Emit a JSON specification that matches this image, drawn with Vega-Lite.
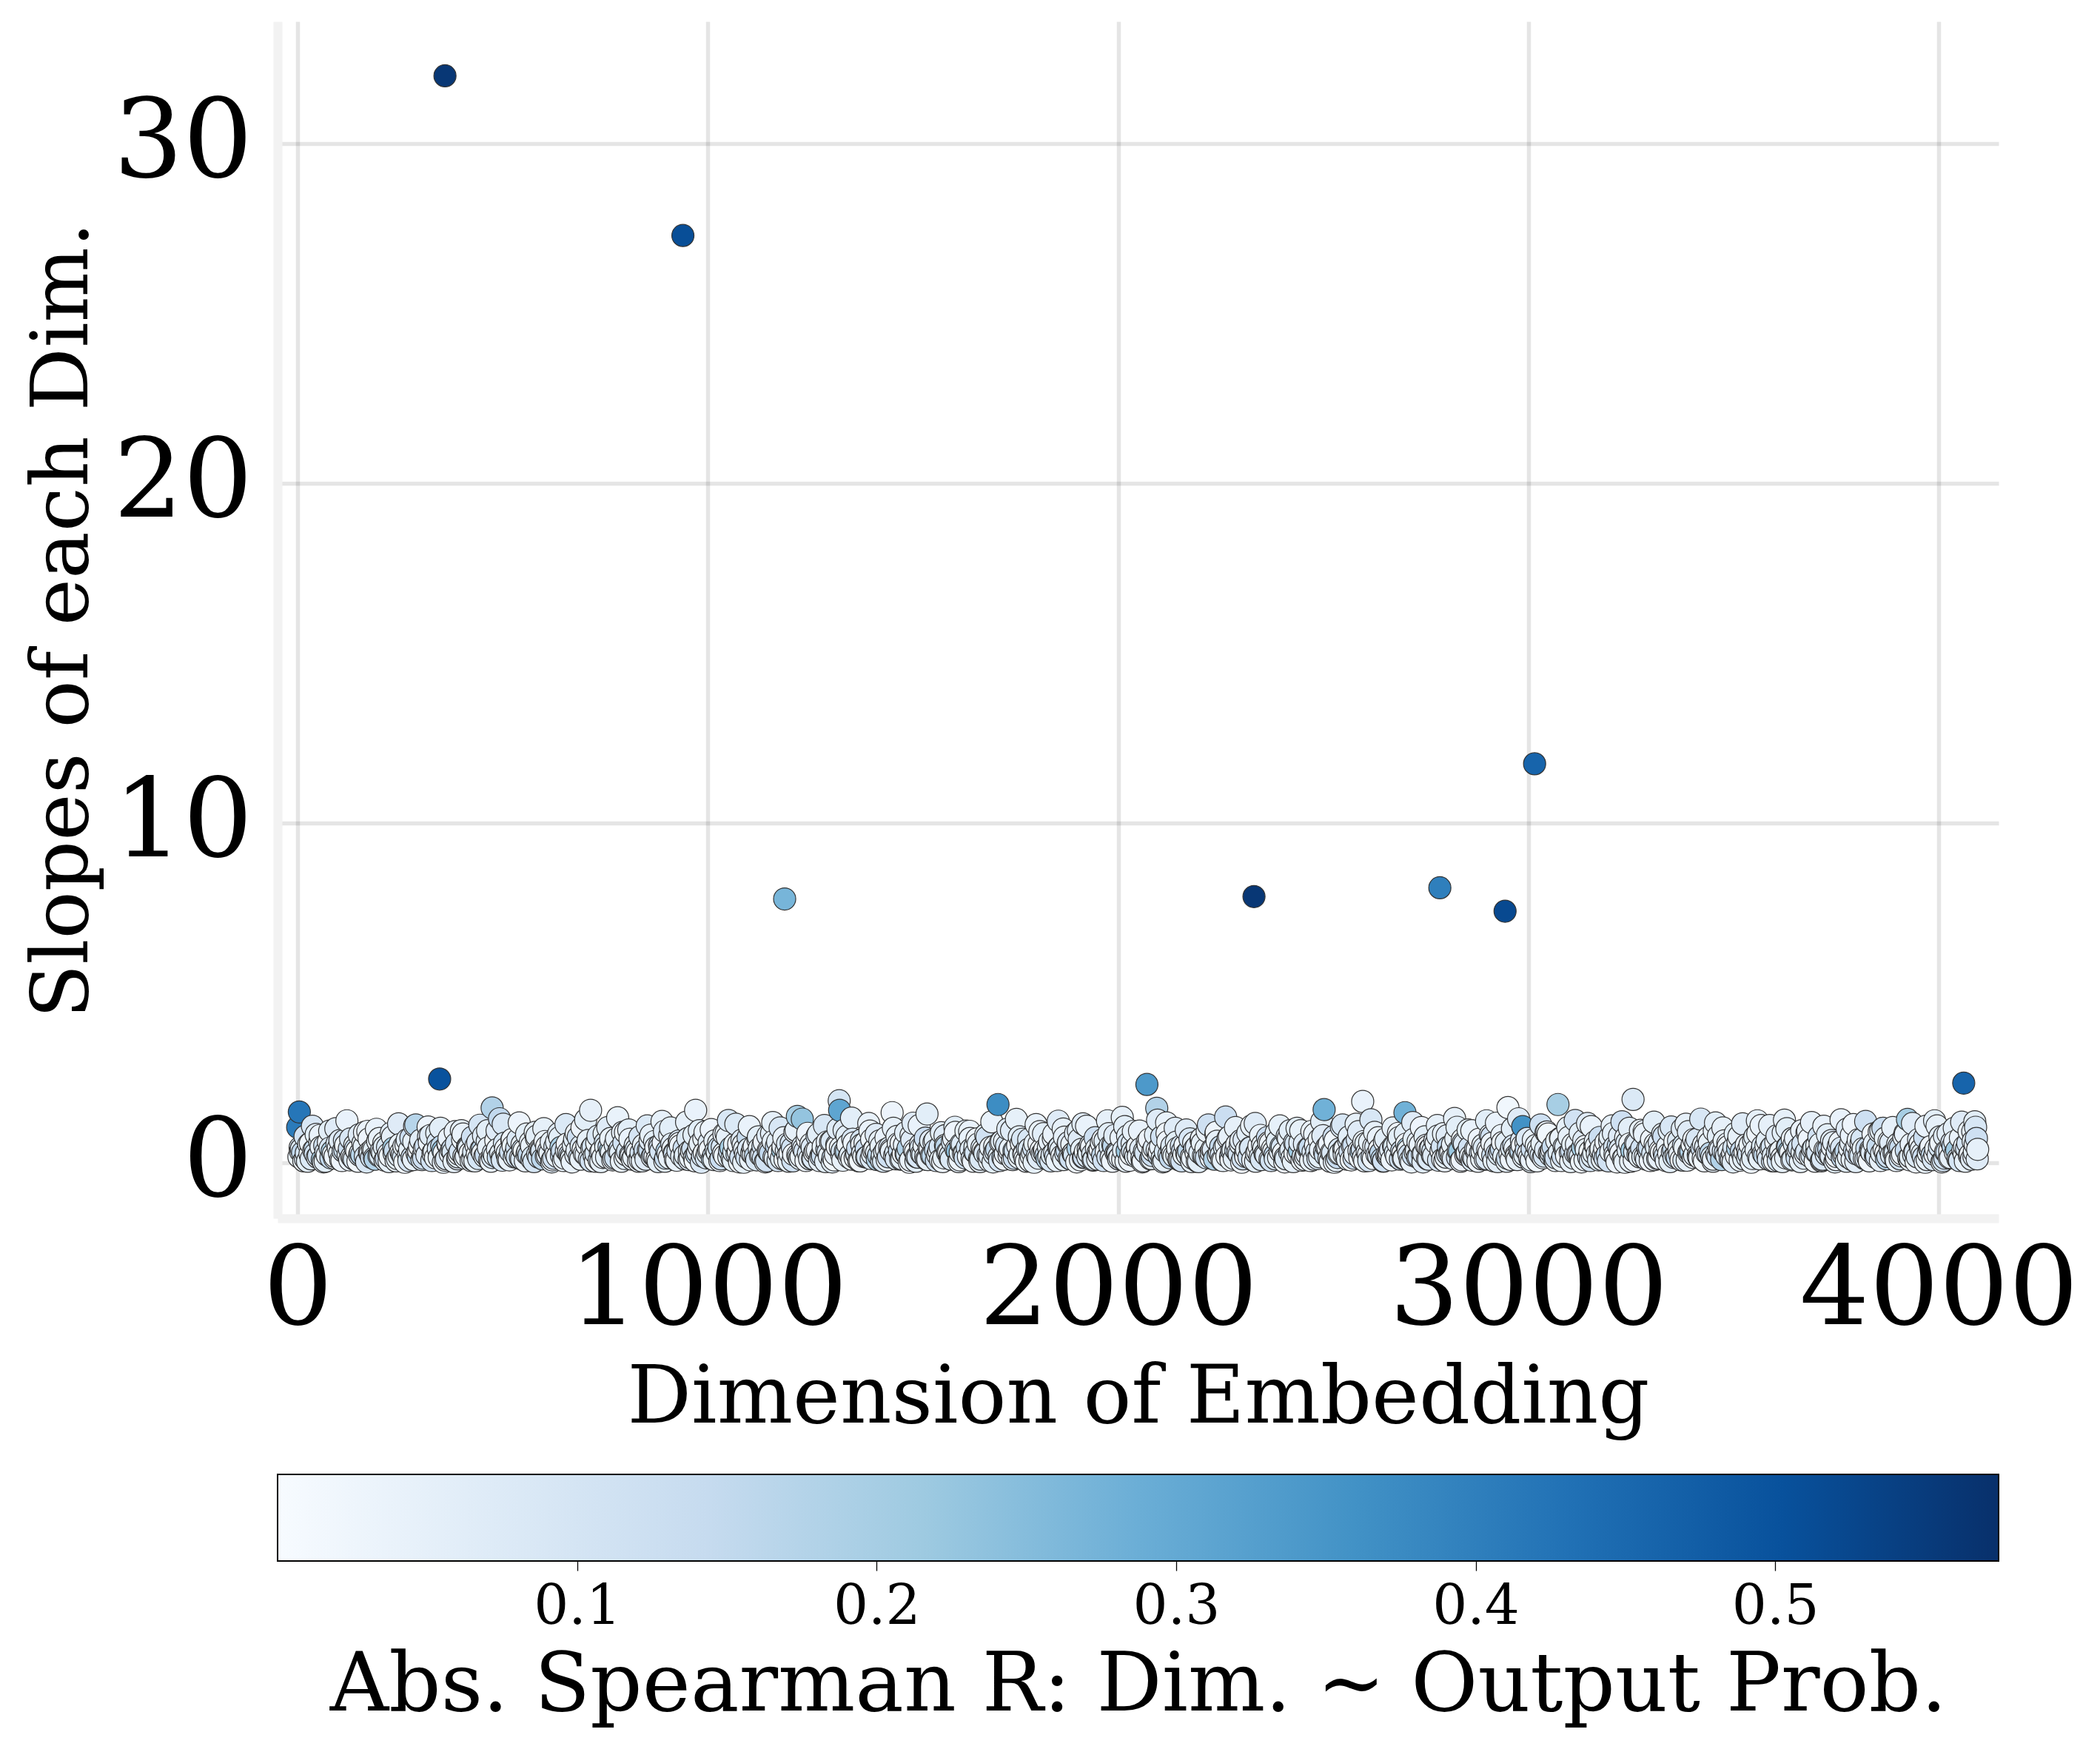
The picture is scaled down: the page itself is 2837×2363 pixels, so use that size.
{
  "$schema": "https://vega.github.io/schema/vega-lite/v6.json",
  "background": "white",
  "padding": {"left": 31, "top": 29, "right": 10, "bottom": 10},
  "spacing": 48,
  "config": {
    "font": "DejaVu Serif",
    "view": {"stroke": null},
    "axis": {"labelColor": "black", "titleColor": "black", "titleFontWeight": "normal", "labelFlush": false, "labelOverlap": false, "labelLimit": 0, "maxExtent": 400}
  },
  "vconcat": [
    {
      "width": 2325,
      "height": 1617,
      "data": {"values": [
        {"d":0,"s":1.05,"r":0.41},{"d":4,"s":1.5,"r":0.42},{"d":6,"s":0.45,"r":0.08},{"d":12,"s":0.31,"r":0.15},{"d":18,"s":0.78,"r":0.11},{"d":24,"s":0.05,"r":0.06},{"d":30,"s":0.26,"r":0.03},{"d":36,"s":1.08,"r":0.09},{"d":42,"s":0.39,"r":0.15},{"d":48,"s":0.17,"r":0.05},{"d":54,"s":0.62,"r":0.07},{"d":60,"s":0.09,"r":0.2},{"d":66,"s":0.51,"r":0.12},{"d":72,"s":0.23,"r":0.04},{"d":78,"s":0.94,"r":0.06},{"d":84,"s":0.34,"r":0.19},{"d":90,"s":0.14,"r":0.03},{"d":96,"s":0.57,"r":0.08},
        {"d":102,"s":0.28,"r":0.06},{"d":108,"s":0.07,"r":0.03},{"d":114,"s":0.66,"r":0.1},{"d":120,"s":1.24,"r":0.04},{"d":126,"s":0.42,"r":0.13},{"d":132,"s":0.19,"r":0.05},{"d":138,"s":0.11,"r":0.08},{"d":144,"s":0.35,"r":0.02},{"d":150,"s":0.83,"r":0.07},{"d":156,"s":0.24,"r":0.17},{"d":162,"s":0.48,"r":0.05},{"d":168,"s":0.03,"r":0.09},{"d":174,"s":0.71,"r":0.03},{"d":180,"s":0.16,"r":0.11},{"d":186,"s":0.38,"r":0.06},{"d":192,"s":0.99,"r":0.04},{"d":198,"s":0.21,"r":0.14},
        {"d":204,"s":0.36,"r":0.09},{"d":210,"s":0.59,"r":0.04},{"d":216,"s":0.13,"r":0.12},{"d":222,"s":0.27,"r":0.03},{"d":228,"s":0.88,"r":0.06},{"d":234,"s":0.44,"r":0.21},{"d":240,"s":0.06,"r":0.05},{"d":246,"s":1.15,"r":0.07},{"d":252,"s":0.32,"r":0.02},{"d":258,"s":0.18,"r":0.1},{"d":264,"s":0.53,"r":0.04},{"d":270,"s":0.25,"r":0.08},{"d":276,"s":0.74,"r":0.13},{"d":282,"s":0.1,"r":0.05},{"d":288,"s":1.12,"r":0.17},{"d":294,"s":0.2,"r":0.16},{"d":300,"s":0.67,"r":0.06},
        {"d":306,"s":0.22,"r":0.05},{"d":312,"s":0.49,"r":0.11},{"d":318,"s":1.06,"r":0.03},{"d":324,"s":0.81,"r":0.07},{"d":330,"s":0.3,"r":0.14},{"d":336,"s":0.15,"r":0.04},{"d":342,"s":0.61,"r":0.09},{"d":346,"s":2.47,"r":0.5},{"d":348,"s":1.02,"r":0.06},{"d":354,"s":0.37,"r":0.23},{"d":359,"s":32.0,"r":0.56},{"d":360,"s":0.08,"r":0.02},{"d":366,"s":0.55,"r":0.08},{"d":372,"s":0.27,"r":0.05},{"d":378,"s":0.43,"r":0.12},{"d":384,"s":0.92,"r":0.04},{"d":390,"s":0.12,"r":0.07},{"d":396,"s":0.33,"r":0.1},{"d":402,"s":0.69,"r":0.03},
        {"d":408,"s":0.14,"r":0.06},{"d":414,"s":0.47,"r":0.09},{"d":420,"s":0.29,"r":0.03},{"d":426,"s":0.76,"r":0.12},{"d":432,"s":0.06,"r":0.05},{"d":438,"s":0.25,"r":0.02},{"d":444,"s":1.11,"r":0.1},{"d":450,"s":0.41,"r":0.16},{"d":456,"s":0.19,"r":0.04},{"d":462,"s":0.64,"r":0.07},{"d":468,"s":0.08,"r":0.03},{"d":474,"s":1.62,"r":0.18},{"d":480,"s":0.22,"r":0.05},{"d":486,"s":0.95,"r":0.07},{"d":492,"s":1.3,"r":0.15},{"d":498,"s":0.13,"r":0.02},{"d":504,"s":0.58,"r":0.09},
        {"d":510,"s":0.26,"r":0.05},{"d":516,"s":0.09,"r":0.04},{"d":522,"s":0.68,"r":0.11},{"d":528,"s":0.18,"r":0.06},{"d":534,"s":0.44,"r":0.12},{"d":540,"s":1.18,"r":0.03},{"d":546,"s":0.12,"r":0.09},{"d":552,"s":0.36,"r":0.02},{"d":558,"s":0.85,"r":0.06},{"d":564,"s":0.23,"r":0.15},{"d":570,"s":0.5,"r":0.04},{"d":576,"s":0.04,"r":0.1},{"d":582,"s":0.73,"r":0.03},{"d":588,"s":0.17,"r":0.12},{"d":594,"s":0.39,"r":0.07},{"d":600,"s":1.01,"r":0.05},{"d":606,"s":0.2,"r":0.13},
        {"d":612,"s":0.35,"r":0.08},{"d":618,"s":0.61,"r":0.05},{"d":624,"s":0.14,"r":0.11},{"d":630,"s":0.28,"r":0.02},{"d":636,"s":0.86,"r":0.07},{"d":642,"s":0.46,"r":0.19},{"d":648,"s":0.07,"r":0.04},{"d":654,"s":1.13,"r":0.08},{"d":660,"s":0.31,"r":0.03},{"d":666,"s":0.19,"r":0.09},{"d":672,"s":0.52,"r":0.05},{"d":678,"s":0.24,"r":0.07},{"d":684,"s":0.76,"r":0.12},{"d":690,"s":0.11,"r":0.04},{"d":696,"s":0.4,"r":0.02},{"d":702,"s":1.27,"r":0.06},{"d":708,"s":0.66,"r":0.05},
        {"d":714,"s":1.55,"r":0.05},{"d":720,"s":0.48,"r":0.1},{"d":726,"s":0.05,"r":0.03},{"d":732,"s":0.79,"r":0.08},{"d":738,"s":0.31,"r":0.13},{"d":744,"s":0.16,"r":0.05},{"d":750,"s":0.6,"r":0.1},{"d":756,"s":1.04,"r":0.07},{"d":762,"s":0.36,"r":0.21},{"d":768,"s":0.09,"r":0.03},{"d":774,"s":0.54,"r":0.07},{"d":780,"s":1.33,"r":0.04},{"d":786,"s":0.42,"r":0.11},{"d":792,"s":0.9,"r":0.05},{"d":798,"s":0.13,"r":0.06},{"d":804,"s":0.34,"r":0.09},{"d":810,"s":0.7,"r":0.04},
        {"d":816,"s":0.11,"r":0.05},{"d":822,"s":0.44,"r":0.07},{"d":828,"s":0.32,"r":0.03},{"d":834,"s":0.77,"r":0.1},{"d":840,"s":0.06,"r":0.05},{"d":846,"s":0.27,"r":0.04},{"d":852,"s":1.09,"r":0.08},{"d":858,"s":0.38,"r":0.14},{"d":864,"s":0.18,"r":0.06},{"d":870,"s":0.63,"r":0.06},{"d":876,"s":0.1,"r":0.03},{"d":882,"s":0.52,"r":0.11},{"d":888,"s":1.22,"r":0.05},{"d":894,"s":0.93,"r":0.07},{"d":900,"s":0.35,"r":0.18},{"d":906,"s":0.15,"r":0.04},{"d":912,"s":0.56,"r":0.07},
        {"d":918,"s":0.29,"r":0.05},{"d":924,"s":0.08,"r":0.04},{"d":930,"s":0.65,"r":0.09},{"d":936,"s":0.2,"r":0.06},{"d":939,"s":27.3,"r":0.51},{"d":942,"s":0.43,"r":0.12},{"d":948,"s":1.2,"r":0.05},{"d":954,"s":0.1,"r":0.07},{"d":960,"s":0.34,"r":0.03},{"d":966,"s":0.82,"r":0.06},{"d":970,"s":1.55,"r":0.04},{"d":972,"s":0.25,"r":0.16},{"d":978,"s":0.47,"r":0.04},{"d":984,"s":0.02,"r":0.08},{"d":990,"s":0.72,"r":0.04},{"d":996,"s":0.15,"r":0.1},{"d":1002,"s":0.37,"r":0.05},{"d":1008,"s":0.98,"r":0.03},{"d":1014,"s":0.22,"r":0.13},
        {"d":1020,"s":0.37,"r":0.08},{"d":1026,"s":0.58,"r":0.05},{"d":1032,"s":0.12,"r":0.13},{"d":1038,"s":0.28,"r":0.04},{"d":1044,"s":0.87,"r":0.05},{"d":1050,"s":1.25,"r":0.09},{"d":1056,"s":0.45,"r":0.2},{"d":1062,"s":0.07,"r":0.06},{"d":1068,"s":1.14,"r":0.08},{"d":1074,"s":0.33,"r":0.03},{"d":1080,"s":0.17,"r":0.11},{"d":1086,"s":0.54,"r":0.05},{"d":1092,"s":0.26,"r":0.07},{"d":1098,"s":0.75,"r":0.14},{"d":1104,"s":0.09,"r":0.04},{"d":1110,"s":0.42,"r":0.03},{"d":1116,"s":0.21,"r":0.15},
        {"d":1122,"s":0.68,"r":0.05},{"d":1128,"s":0.23,"r":0.06},{"d":1134,"s":0.5,"r":0.12},{"d":1140,"s":0.03,"r":0.04},{"d":1146,"s":0.8,"r":0.07},{"d":1152,"s":0.29,"r":0.15},{"d":1158,"s":1.19,"r":0.05},{"d":1164,"s":0.14,"r":0.08},{"d":1170,"s":0.62,"r":0.06},{"d":1176,"s":1.03,"r":0.09},{"d":1182,"s":0.38,"r":0.22},{"d":1187,"s":7.77,"r":0.27},{"d":1188,"s":0.1,"r":0.03},{"d":1194,"s":0.56,"r":0.08},{"d":1200,"s":0.28,"r":0.04},{"d":1206,"s":0.44,"r":0.11},{"d":1212,"s":0.91,"r":0.05},{"d":1218,"s":1.37,"r":0.2},
        {"d":1224,"s":0.13,"r":0.06},{"d":1230,"s":1.29,"r":0.23},{"d":1236,"s":0.34,"r":0.1},{"d":1242,"s":0.7,"r":0.04},{"d":1248,"s":0.12,"r":0.05},{"d":1254,"s":0.46,"r":0.08},{"d":1260,"s":0.3,"r":0.03},{"d":1266,"s":0.79,"r":0.12},{"d":1272,"s":0.07,"r":0.05},{"d":1278,"s":0.26,"r":0.03},{"d":1284,"s":1.1,"r":0.09},{"d":1290,"s":0.4,"r":0.14},{"d":1296,"s":0.2,"r":0.05},{"d":1302,"s":0.64,"r":0.08},{"d":1308,"s":0.09,"r":0.02},{"d":1314,"s":0.53,"r":0.12},{"d":1320,"s":1.83,"r":0.1},{"d":1321,"s":1.55,"r":0.31},
        {"d":1326,"s":0.24,"r":0.04},{"d":1332,"s":0.96,"r":0.07},{"d":1338,"s":0.33,"r":0.17},{"d":1344,"s":0.16,"r":0.05},{"d":1350,"s":1.32,"r":0.06},{"d":1356,"s":0.59,"r":0.03},{"d":1362,"s":0.27,"r":0.06},{"d":1368,"s":0.06,"r":0.04},{"d":1374,"s":0.67,"r":0.1},{"d":1380,"s":0.19,"r":0.05},{"d":1386,"s":0.41,"r":0.13},{"d":1392,"s":1.16,"r":0.04},{"d":1398,"s":0.13,"r":0.08},{"d":1404,"s":0.37,"r":0.02},{"d":1410,"s":0.84,"r":0.07},{"d":1416,"s":0.22,"r":0.16},{"d":1422,"s":0.49,"r":0.05},
        {"d":1428,"s":0.05,"r":0.09},{"d":1434,"s":0.74,"r":0.04},{"d":1440,"s":0.18,"r":0.12},{"d":1446,"s":0.39,"r":0.07},{"d":1449,"s":1.48,"r":0.03},{"d":1452,"s":1.02,"r":0.05},{"d":1458,"s":0.3,"r":0.09},{"d":1464,"s":0.57,"r":0.05},{"d":1470,"s":0.11,"r":0.11},{"d":1476,"s":0.27,"r":0.03},{"d":1482,"s":0.89,"r":0.06},{"d":1488,"s":0.43,"r":0.18},{"d":1494,"s":0.08,"r":0.04},{"d":1500,"s":1.17,"r":0.07},{"d":1506,"s":0.32,"r":0.02},{"d":1512,"s":0.17,"r":0.09},{"d":1518,"s":0.54,"r":0.04},{"d":1524,"s":0.25,"r":0.08},
        {"d":1530,"s":0.73,"r":0.13},{"d":1534,"s":1.44,"r":0.06},{"d":1536,"s":0.1,"r":0.05},{"d":1542,"s":0.41,"r":0.03},{"d":1548,"s":0.21,"r":0.16},{"d":1554,"s":0.66,"r":0.06},{"d":1560,"s":0.24,"r":0.05},{"d":1566,"s":0.48,"r":0.1},{"d":1572,"s":0.04,"r":0.03},{"d":1578,"s":0.8,"r":0.07},{"d":1584,"s":0.31,"r":0.14},{"d":1590,"s":0.15,"r":0.04},{"d":1596,"s":0.62,"r":0.09},{"d":1602,"s":1.05,"r":0.06},{"d":1608,"s":0.35,"r":0.24},{"d":1614,"s":0.09,"r":0.03},{"d":1620,"s":0.55,"r":0.07},{"d":1626,"s":0.29,"r":0.05},
        {"d":1632,"s":0.45,"r":0.12},{"d":1638,"s":0.93,"r":0.04},{"d":1644,"s":0.13,"r":0.07},{"d":1650,"s":0.33,"r":0.09},{"d":1656,"s":0.71,"r":0.03},{"d":1662,"s":0.12,"r":0.05},{"d":1668,"s":0.45,"r":0.08},{"d":1674,"s":0.31,"r":0.03},{"d":1680,"s":0.76,"r":0.11},{"d":1686,"s":0.07,"r":0.05},{"d":1692,"s":1.21,"r":0.04},{"d":1698,"s":0.26,"r":0.09},{"d":1704,"s":0.4,"r":0.15},{"d":1707,"s":1.72,"r":0.37},{"d":1710,"s":0.19,"r":0.06},{"d":1716,"s":0.63,"r":0.06},{"d":1722,"s":0.11,"r":0.03},{"d":1728,"s":0.51,"r":0.1},
        {"d":1734,"s":0.23,"r":0.04},{"d":1740,"s":0.95,"r":0.07},{"d":1746,"s":0.36,"r":0.17},{"d":1752,"s":1.28,"r":0.05},{"d":1758,"s":0.16,"r":0.05},{"d":1764,"s":0.58,"r":0.03},{"d":1770,"s":0.27,"r":0.06},{"d":1776,"s":0.05,"r":0.04},{"d":1782,"s":0.69,"r":0.09},{"d":1788,"s":0.2,"r":0.05},{"d":1794,"s":0.43,"r":0.12},{"d":1800,"s":1.13,"r":0.04},{"d":1806,"s":0.14,"r":0.07},{"d":1812,"s":0.38,"r":0.02},{"d":1818,"s":0.86,"r":0.06},{"d":1824,"s":0.23,"r":0.14},{"d":1830,"s":0.47,"r":0.05},
        {"d":1836,"s":0.06,"r":0.09},{"d":1842,"s":0.72,"r":0.04},{"d":1848,"s":0.19,"r":0.11},{"d":1854,"s":1.23,"r":0.07},{"d":1860,"s":0.37,"r":0.06},{"d":1866,"s":1.0,"r":0.05},{"d":1872,"s":0.29,"r":0.1},{"d":1878,"s":0.56,"r":0.05},{"d":1884,"s":0.12,"r":0.12},{"d":1890,"s":0.28,"r":0.03},{"d":1896,"s":0.87,"r":0.06},{"d":1902,"s":0.44,"r":0.19},{"d":1908,"s":0.09,"r":0.04},{"d":1914,"s":1.15,"r":0.07},{"d":1920,"s":0.33,"r":0.02},{"d":1926,"s":0.18,"r":0.08},{"d":1932,"s":0.52,"r":0.04},
        {"d":1938,"s":0.26,"r":0.08},{"d":1944,"s":0.74,"r":0.12},{"d":1950,"s":0.11,"r":0.05},{"d":1956,"s":0.4,"r":0.03},{"d":1962,"s":0.22,"r":0.15},{"d":1968,"s":0.65,"r":0.06},{"d":1974,"s":1.24,"r":0.05},{"d":1980,"s":0.49,"r":0.1},{"d":1986,"s":0.05,"r":0.03},{"d":1992,"s":0.81,"r":0.07},{"d":1998,"s":0.3,"r":0.13},{"d":2004,"s":0.16,"r":0.04},{"d":2010,"s":1.34,"r":0.05},{"d":2016,"s":1.07,"r":0.06},{"d":2022,"s":0.36,"r":0.22},{"d":2028,"s":0.08,"r":0.03},{"d":2034,"s":0.57,"r":0.07},
        {"d":2040,"s":0.28,"r":0.05},{"d":2046,"s":0.46,"r":0.11},{"d":2052,"s":0.94,"r":0.04},{"d":2058,"s":0.14,"r":0.07},{"d":2064,"s":0.34,"r":0.09},{"d":2070,"s":2.31,"r":0.34},{"d":2076,"s":0.7,"r":0.03},{"d":2082,"s":0.13,"r":0.05},{"d":2088,"s":0.44,"r":0.08},{"d":2094,"s":1.61,"r":0.18},{"d":2096,"s":1.26,"r":0.07},{"d":2100,"s":0.32,"r":0.03},{"d":2106,"s":0.77,"r":0.11},{"d":2112,"s":0.06,"r":0.05},{"d":2118,"s":1.18,"r":0.04},{"d":2124,"s":0.25,"r":0.09},{"d":2130,"s":0.41,"r":0.15},{"d":2136,"s":0.2,"r":0.06},
        {"d":2142,"s":0.61,"r":0.06},{"d":2148,"s":0.1,"r":0.03},{"d":2154,"s":0.5,"r":0.1},{"d":2160,"s":0.24,"r":0.04},{"d":2166,"s":0.97,"r":0.07},{"d":2172,"s":0.35,"r":0.16},{"d":2178,"s":0.17,"r":0.05},{"d":2184,"s":0.59,"r":0.05},{"d":2190,"s":0.28,"r":0.03},{"d":2196,"s":0.04,"r":0.06},{"d":2202,"s":0.68,"r":0.04},{"d":2208,"s":0.21,"r":0.09},{"d":2214,"s":0.42,"r":0.05},{"d":2220,"s":1.12,"r":0.12},{"d":2226,"s":0.15,"r":0.04},{"d":2232,"s":0.39,"r":0.07},{"d":2238,"s":0.85,"r":0.02},
        {"d":2244,"s":0.22,"r":0.06},{"d":2250,"s":0.48,"r":0.14},{"d":2256,"s":0.07,"r":0.05},{"d":2262,"s":1.35,"r":0.13},{"d":2268,"s":0.73,"r":0.04},{"d":2274,"s":0.19,"r":0.12},{"d":2280,"s":0.38,"r":0.07},{"d":2286,"s":1.04,"r":0.05},{"d":2292,"s":0.31,"r":0.09},{"d":2298,"s":0.55,"r":0.05},{"d":2304,"s":0.12,"r":0.11},{"d":2310,"s":0.26,"r":0.03},{"d":2316,"s":0.88,"r":0.06},{"d":2322,"s":0.45,"r":0.2},{"d":2328,"s":0.09,"r":0.04},{"d":2331,"s":7.84,"r":0.56},{"d":2334,"s":1.16,"r":0.07},{"d":2340,"s":0.34,"r":0.02},
        {"d":2346,"s":0.18,"r":0.08},{"d":2352,"s":0.53,"r":0.04},{"d":2358,"s":0.27,"r":0.06},{"d":2364,"s":0.75,"r":0.13},{"d":2370,"s":0.1,"r":0.05},{"d":2376,"s":0.42,"r":0.03},{"d":2382,"s":0.23,"r":0.15},{"d":2388,"s":0.64,"r":0.06},{"d":2394,"s":1.09,"r":0.05},{"d":2400,"s":0.47,"r":0.1},{"d":2406,"s":0.03,"r":0.03},{"d":2412,"s":0.79,"r":0.07},{"d":2418,"s":0.32,"r":0.12},{"d":2424,"s":0.15,"r":0.04},{"d":2430,"s":0.6,"r":0.09},{"d":2436,"s":1.02,"r":0.06},{"d":2442,"s":0.37,"r":0.21},
        {"d":2448,"s":0.08,"r":0.03},{"d":2454,"s":0.56,"r":0.07},{"d":2460,"s":0.26,"r":0.05},{"d":2466,"s":0.43,"r":0.11},{"d":2472,"s":0.93,"r":0.04},{"d":2478,"s":0.11,"r":0.07},{"d":2484,"s":0.33,"r":0.1},{"d":2490,"s":0.69,"r":0.03},{"d":2496,"s":1.22,"r":0.06},{"d":2502,"s":1.57,"r":0.28},{"d":2508,"s":0.46,"r":0.08},{"d":2514,"s":0.14,"r":0.05},{"d":2520,"s":0.31,"r":0.03},{"d":2526,"s":0.78,"r":0.12},{"d":2532,"s":0.07,"r":0.05},{"d":2538,"s":0.27,"r":0.03},{"d":2544,"s":1.06,"r":0.09},
        {"d":2550,"s":0.4,"r":0.14},{"d":2556,"s":0.21,"r":0.05},{"d":2562,"s":0.65,"r":0.08},{"d":2568,"s":0.09,"r":0.02},{"d":2574,"s":0.52,"r":0.12},{"d":2580,"s":1.14,"r":0.05},{"d":2586,"s":0.92,"r":0.07},{"d":2592,"s":0.34,"r":0.18},{"d":2596,"s":1.81,"r":0.04},{"d":2598,"s":0.16,"r":0.04},{"d":2604,"s":0.58,"r":0.06},{"d":2610,"s":0.24,"r":0.05},{"d":2616,"s":1.27,"r":0.09},{"d":2622,"s":0.13,"r":0.03},{"d":2628,"s":0.47,"r":0.07},{"d":2634,"s":0.74,"r":0.04},{"d":2640,"s":0.29,"r":0.16},{"d":2646,"s":0.05,"r":0.05},
        {"d":2652,"s":0.71,"r":0.06},{"d":2658,"s":0.19,"r":0.12},{"d":2664,"s":0.39,"r":0.07},{"d":2670,"s":1.03,"r":0.05},{"d":2676,"s":0.3,"r":0.09},{"d":2682,"s":0.57,"r":0.05},{"d":2688,"s":0.11,"r":0.11},{"d":2694,"s":0.28,"r":0.03},{"d":2699,"s":1.48,"r":0.28},{"d":2700,"s":0.86,"r":0.06},{"d":2706,"s":0.44,"r":0.19},{"d":2712,"s":0.08,"r":0.04},{"d":2718,"s":1.19,"r":0.07},{"d":2724,"s":0.32,"r":0.02},{"d":2730,"s":0.17,"r":0.08},{"d":2736,"s":0.53,"r":0.04},{"d":2742,"s":0.25,"r":0.1},{"d":2748,"s":0.77,"r":0.06},
        {"d":2754,"s":0.12,"r":0.05},{"d":2760,"s":0.41,"r":0.03},{"d":2766,"s":0.23,"r":0.15},{"d":2772,"s":0.66,"r":0.06},{"d":2778,"s":1.1,"r":0.05},{"d":2784,"s":8.1,"r":0.4},{"d":2790,"s":0.48,"r":0.1},{"d":2796,"s":0.06,"r":0.03},{"d":2802,"s":0.8,"r":0.07},{"d":2808,"s":0.29,"r":0.13},{"d":2814,"s":0.16,"r":0.04},{"d":2820,"s":1.31,"r":0.05},{"d":2826,"s":1.05,"r":0.06},{"d":2832,"s":0.35,"r":0.22},{"d":2838,"s":0.09,"r":0.03},{"d":2844,"s":0.56,"r":0.07},{"d":2850,"s":0.27,"r":0.05},
        {"d":2856,"s":0.45,"r":0.11},{"d":2862,"s":0.95,"r":0.04},{"d":2868,"s":0.14,"r":0.07},{"d":2874,"s":0.33,"r":0.09},{"d":2880,"s":0.7,"r":0.03},{"d":2886,"s":0.12,"r":0.05},{"d":2892,"s":0.44,"r":0.08},{"d":2898,"s":1.24,"r":0.06},{"d":2904,"s":0.31,"r":0.03},{"d":2910,"s":0.77,"r":0.11},{"d":2916,"s":0.06,"r":0.05},{"d":2922,"s":1.17,"r":0.04},{"d":2928,"s":0.25,"r":0.09},{"d":2934,"s":0.41,"r":0.15},{"d":2940,"s":0.2,"r":0.06},{"d":2943,"s":7.41,"r":0.52},{"d":2946,"s":0.6,"r":0.06},{"d":2950,"s":1.63,"r":0.02},
        {"d":2958,"s":0.1,"r":0.03},{"d":2964,"s":0.51,"r":0.1},{"d":2970,"s":0.24,"r":0.04},{"d":2976,"s":1.3,"r":0.07},{"d":2982,"s":0.35,"r":0.16},{"d":2986,"s":1.07,"r":0.36},{"d":2988,"s":0.17,"r":0.05},{"d":2994,"s":0.59,"r":0.05},{"d":3000,"s":0.28,"r":0.03},{"d":3006,"s":0.04,"r":0.06},{"d":3012,"s":0.68,"r":0.04},{"d":3015,"s":11.75,"r":0.46},{"d":3018,"s":0.21,"r":0.09},{"d":3024,"s":0.42,"r":0.05},{"d":3030,"s":1.12,"r":0.12},{"d":3036,"s":0.15,"r":0.04},{"d":3042,"s":0.39,"r":0.07},{"d":3048,"s":0.85,"r":0.02},{"d":3054,"s":0.22,"r":0.06},
        {"d":3060,"s":0.48,"r":0.14},{"d":3066,"s":0.07,"r":0.05},{"d":3072,"s":1.72,"r":0.2},{"d":3078,"s":0.73,"r":0.04},{"d":3084,"s":0.19,"r":0.12},{"d":3090,"s":0.38,"r":0.07},{"d":3096,"s":1.04,"r":0.05},{"d":3102,"s":0.31,"r":0.09},{"d":3108,"s":0.55,"r":0.05},{"d":3114,"s":1.25,"r":0.11},{"d":3120,"s":0.26,"r":0.03},{"d":3126,"s":0.88,"r":0.06},{"d":3132,"s":0.45,"r":0.2},{"d":3138,"s":0.09,"r":0.04},{"d":3144,"s":1.16,"r":0.07},{"d":3150,"s":0.34,"r":0.02},{"d":3156,"s":0.18,"r":0.08},
        {"d":3162,"s":0.53,"r":0.04},{"d":3168,"s":0.27,"r":0.06},{"d":3174,"s":0.75,"r":0.13},{"d":3180,"s":0.1,"r":0.05},{"d":3186,"s":0.42,"r":0.03},{"d":3192,"s":0.23,"r":0.15},{"d":3198,"s":0.64,"r":0.06},{"d":3204,"s":1.09,"r":0.05},{"d":3210,"s":0.47,"r":0.1},{"d":3216,"s":0.03,"r":0.03},{"d":3222,"s":0.79,"r":0.07},{"d":3228,"s":1.21,"r":0.12},{"d":3234,"s":0.15,"r":0.04},{"d":3240,"s":0.6,"r":0.09},{"d":3246,"s":1.02,"r":0.06},{"d":3252,"s":0.37,"r":0.21},{"d":3255,"s":1.87,"r":0.08},{"d":3258,"s":0.08,"r":0.03},
        {"d":3264,"s":0.56,"r":0.07},{"d":3270,"s":0.26,"r":0.05},{"d":3276,"s":0.43,"r":0.11},{"d":3282,"s":0.93,"r":0.04},{"d":3288,"s":0.11,"r":0.07},{"d":3294,"s":0.33,"r":0.1},{"d":3300,"s":0.69,"r":0.03},{"d":3306,"s":1.2,"r":0.06},{"d":3312,"s":0.46,"r":0.08},{"d":3318,"s":0.14,"r":0.05},{"d":3324,"s":0.31,"r":0.03},{"d":3330,"s":0.78,"r":0.12},{"d":3336,"s":0.07,"r":0.05},{"d":3342,"s":0.27,"r":0.03},{"d":3348,"s":1.06,"r":0.09},{"d":3354,"s":0.4,"r":0.14},{"d":3360,"s":0.21,"r":0.05},
        {"d":3366,"s":0.65,"r":0.08},{"d":3372,"s":0.09,"r":0.02},{"d":3378,"s":0.52,"r":0.12},{"d":3384,"s":1.14,"r":0.05},{"d":3390,"s":0.92,"r":0.07},{"d":3396,"s":0.34,"r":0.18},{"d":3402,"s":0.16,"r":0.04},{"d":3408,"s":0.58,"r":0.06},{"d":3414,"s":0.24,"r":0.05},{"d":3420,"s":1.29,"r":0.09},{"d":3426,"s":0.13,"r":0.03},{"d":3432,"s":0.47,"r":0.07},{"d":3438,"s":0.74,"r":0.04},{"d":3444,"s":0.29,"r":0.16},{"d":3450,"s":0.05,"r":0.05},{"d":3456,"s":1.18,"r":0.06},{"d":3462,"s":0.19,"r":0.12},
        {"d":3468,"s":0.39,"r":0.07},{"d":3474,"s":1.03,"r":0.05},{"d":3480,"s":0.3,"r":0.09},{"d":3486,"s":0.57,"r":0.05},{"d":3492,"s":0.11,"r":0.11},{"d":3498,"s":0.28,"r":0.03},{"d":3504,"s":0.86,"r":0.06},{"d":3510,"s":0.44,"r":0.19},{"d":3516,"s":0.08,"r":0.04},{"d":3522,"s":1.15,"r":0.07},{"d":3528,"s":0.32,"r":0.02},{"d":3534,"s":0.17,"r":0.08},{"d":3540,"s":0.53,"r":0.04},{"d":3546,"s":0.25,"r":0.1},{"d":3552,"s":0.77,"r":0.06},{"d":3558,"s":1.24,"r":0.05},{"d":3564,"s":0.12,"r":0.05},
        {"d":3570,"s":0.41,"r":0.03},{"d":3576,"s":0.23,"r":0.15},{"d":3582,"s":0.66,"r":0.06},{"d":3588,"s":1.1,"r":0.05},{"d":3594,"s":0.48,"r":0.1},{"d":3600,"s":0.06,"r":0.03},{"d":3606,"s":0.8,"r":0.07},{"d":3612,"s":0.29,"r":0.13},{"d":3618,"s":0.16,"r":0.04},{"d":3624,"s":1.26,"r":0.05},{"d":3630,"s":1.01,"r":0.06},{"d":3636,"s":0.35,"r":0.22},{"d":3642,"s":0.09,"r":0.03},{"d":3648,"s":0.56,"r":0.07},{"d":3654,"s":0.27,"r":0.05},{"d":3660,"s":0.45,"r":0.11},{"d":3666,"s":0.95,"r":0.04},
        {"d":3672,"s":0.14,"r":0.07},{"d":3678,"s":0.33,"r":0.09},{"d":3684,"s":0.7,"r":0.03},{"d":3690,"s":1.19,"r":0.05},{"d":3696,"s":0.44,"r":0.08},{"d":3702,"s":0.31,"r":0.03},{"d":3708,"s":0.77,"r":0.11},{"d":3714,"s":0.06,"r":0.05},{"d":3720,"s":1.08,"r":0.04},{"d":3726,"s":0.25,"r":0.09},{"d":3732,"s":0.41,"r":0.15},{"d":3738,"s":0.2,"r":0.06},{"d":3744,"s":0.6,"r":0.06},{"d":3750,"s":0.1,"r":0.03},{"d":3756,"s":0.51,"r":0.1},{"d":3762,"s":1.27,"r":0.04},{"d":3768,"s":0.24,"r":0.04},
        {"d":3774,"s":0.35,"r":0.16},{"d":3780,"s":0.17,"r":0.05},{"d":3786,"s":0.59,"r":0.05},{"d":3792,"s":1.13,"r":0.03},{"d":3798,"s":0.04,"r":0.06},{"d":3804,"s":0.68,"r":0.04},{"d":3810,"s":0.21,"r":0.09},{"d":3816,"s":0.42,"r":0.05},{"d":3822,"s":1.22,"r":0.12},{"d":3828,"s":0.15,"r":0.04},{"d":3834,"s":0.39,"r":0.07},{"d":3840,"s":0.85,"r":0.02},{"d":3846,"s":0.22,"r":0.06},{"d":3852,"s":0.48,"r":0.14},{"d":3858,"s":0.07,"r":0.05},{"d":3864,"s":1.02,"r":0.13},{"d":3870,"s":0.73,"r":0.04},
        {"d":3876,"s":0.19,"r":0.12},{"d":3882,"s":0.38,"r":0.07},{"d":3888,"s":1.04,"r":0.05},{"d":3894,"s":0.31,"r":0.09},{"d":3900,"s":0.55,"r":0.05},{"d":3906,"s":0.12,"r":0.11},{"d":3912,"s":0.26,"r":0.03},{"d":3918,"s":0.88,"r":0.06},{"d":3924,"s":1.28,"r":0.2},{"d":3930,"s":0.09,"r":0.04},{"d":3936,"s":1.16,"r":0.07},{"d":3942,"s":0.34,"r":0.02},{"d":3948,"s":0.18,"r":0.08},{"d":3954,"s":0.53,"r":0.04},{"d":3960,"s":0.27,"r":0.06},{"d":3966,"s":0.75,"r":0.13},{"d":3972,"s":0.1,"r":0.05},
        {"d":3978,"s":0.42,"r":0.03},{"d":3984,"s":0.23,"r":0.15},{"d":3990,"s":1.24,"r":0.06},{"d":3996,"s":1.09,"r":0.05},{"d":4002,"s":0.47,"r":0.1},{"d":4008,"s":0.03,"r":0.03},{"d":4014,"s":0.79,"r":0.07},{"d":4020,"s":0.32,"r":0.12},{"d":4026,"s":0.15,"r":0.04},{"d":4032,"s":0.6,"r":0.09},{"d":4038,"s":1.02,"r":0.06},{"d":4044,"s":0.37,"r":0.21},{"d":4050,"s":0.08,"r":0.03},{"d":4056,"s":1.2,"r":0.07},{"d":4061,"s":2.35,"r":0.46},{"d":4062,"s":0.26,"r":0.05},{"d":4068,"s":0.43,"r":0.11},{"d":4074,"s":0.93,"r":0.04},
        {"d":4080,"s":0.11,"r":0.07},{"d":4084,"s":0.64,"r":0.05},{"d":4088,"s":1.21,"r":0.06},{"d":4090,"s":1.05,"r":0.09},{"d":4092,"s":0.72,"r":0.12},{"d":4095,"s":0.4,"r":0.05},
        {"d":3,"s":0.18,"r":0.04},{"d":9,"s":0.41,"r":0.07},{"d":15,"s":0.06,"r":0.03},{"d":21,"s":0.29,"r":0.1},{"d":27,"s":0.55,"r":0.05},{"d":33,"s":0.12,"r":0.08},{"d":39,"s":0.37,"r":0.02},{"d":45,"s":0.84,"r":0.06},{"d":51,"s":0.21,"r":0.12},{"d":57,"s":0.47,"r":0.04},{"d":63,"s":0.03,"r":0.06},{"d":69,"s":0.33,"r":0.09},{"d":75,"s":0.62,"r":0.03},{"d":81,"s":0.15,"r":0.15},{"d":87,"s":0.26,"r":0.05},{"d":93,"s":1.01,"r":0.07},{"d":99,"s":0.44,"r":0.04},
        {"d":105,"s":0.09,"r":0.05},{"d":111,"s":0.35,"r":0.11},{"d":117,"s":0.52,"r":0.03},{"d":123,"s":0.24,"r":0.06},{"d":129,"s":0.71,"r":0.09},{"d":135,"s":0.14,"r":0.04},{"d":141,"s":0.42,"r":0.13},{"d":147,"s":0.05,"r":0.02},{"d":153,"s":0.3,"r":0.07},{"d":159,"s":0.58,"r":0.05},{"d":165,"s":0.19,"r":0.1},{"d":171,"s":0.93,"r":0.04},{"d":177,"s":0.27,"r":0.06},{"d":183,"s":0.4,"r":0.03},{"d":189,"s":0.11,"r":0.18},{"d":195,"s":0.64,"r":0.05},{"d":201,"s":0.22,"r":0.08},
        {"d":207,"s":0.31,"r":0.06},{"d":213,"s":0.08,"r":0.04},{"d":219,"s":0.46,"r":0.09},{"d":225,"s":0.2,"r":0.03},{"d":231,"s":0.77,"r":0.05},{"d":237,"s":0.36,"r":0.14},{"d":243,"s":0.13,"r":0.06},{"d":249,"s":0.54,"r":0.04},{"d":255,"s":0.25,"r":0.1},{"d":261,"s":0.02,"r":0.03},{"d":267,"s":0.68,"r":0.07},{"d":273,"s":0.39,"r":0.05},{"d":279,"s":0.17,"r":0.12},{"d":285,"s":1.09,"r":0.04},{"d":291,"s":0.28,"r":0.06},{"d":297,"s":0.5,"r":0.03},{"d":303,"s":0.1,"r":0.09},
        {"d":309,"s":0.43,"r":0.05},{"d":315,"s":0.23,"r":0.07},{"d":321,"s":0.6,"r":0.03},{"d":327,"s":0.07,"r":0.11},{"d":333,"s":0.34,"r":0.04},{"d":339,"s":0.88,"r":0.06},{"d":345,"s":0.16,"r":0.05},{"d":351,"s":0.49,"r":0.16},{"d":357,"s":0.3,"r":0.03},{"d":363,"s":0.12,"r":0.08},{"d":369,"s":0.73,"r":0.04},{"d":375,"s":0.38,"r":0.07},{"d":381,"s":0.04,"r":0.05},{"d":387,"s":0.57,"r":0.1},{"d":393,"s":0.26,"r":0.03},{"d":399,"s":0.95,"r":0.05},{"d":405,"s":0.19,"r":0.06},
        {"d":411,"s":0.2,"r":0.05},{"d":417,"s":0.43,"r":0.06},{"d":423,"s":0.07,"r":0.04},{"d":429,"s":0.32,"r":0.09},{"d":435,"s":0.51,"r":0.03},{"d":441,"s":0.13,"r":0.1},{"d":447,"s":0.39,"r":0.04},{"d":453,"s":0.8,"r":0.07},{"d":459,"s":0.24,"r":0.13},{"d":465,"s":0.45,"r":0.05},{"d":471,"s":0.05,"r":0.04},{"d":477,"s":0.3,"r":0.08},{"d":483,"s":0.66,"r":0.02},{"d":489,"s":0.16,"r":0.14},{"d":495,"s":0.28,"r":0.06},{"d":501,"s":1.14,"r":0.09},{"d":507,"s":0.42,"r":0.03},
        {"d":513,"s":0.11,"r":0.06},{"d":519,"s":0.33,"r":0.12},{"d":525,"s":0.5,"r":0.04},{"d":531,"s":0.26,"r":0.05},{"d":537,"s":0.69,"r":0.08},{"d":543,"s":0.15,"r":0.03},{"d":549,"s":0.4,"r":0.11},{"d":555,"s":0.06,"r":0.04},{"d":561,"s":0.32,"r":0.06},{"d":567,"s":0.61,"r":0.05},{"d":573,"s":0.18,"r":0.09},{"d":579,"s":0.9,"r":0.05},{"d":585,"s":0.25,"r":0.07},{"d":591,"s":0.41,"r":0.02},{"d":597,"s":0.12,"r":0.16},{"d":603,"s":0.63,"r":0.04},{"d":609,"s":0.23,"r":0.07},
        {"d":615,"s":0.29,"r":0.05},{"d":621,"s":0.09,"r":0.03},{"d":627,"s":0.48,"r":0.08},{"d":633,"s":0.19,"r":0.04},{"d":639,"s":0.75,"r":0.06},{"d":645,"s":0.35,"r":0.12},{"d":651,"s":0.14,"r":0.05},{"d":657,"s":0.56,"r":0.03},{"d":663,"s":0.24,"r":0.11},{"d":669,"s":0.03,"r":0.04},{"d":675,"s":0.7,"r":0.06},{"d":681,"s":0.37,"r":0.05},{"d":687,"s":0.18,"r":0.13},{"d":693,"s":1.04,"r":0.03},{"d":699,"s":0.27,"r":0.07},{"d":705,"s":0.52,"r":0.04},{"d":711,"s":0.11,"r":0.08},
        {"d":717,"s":0.44,"r":0.06},{"d":723,"s":0.21,"r":0.07},{"d":729,"s":0.58,"r":0.04},{"d":735,"s":0.08,"r":0.1},{"d":741,"s":0.36,"r":0.03},{"d":747,"s":0.86,"r":0.05},{"d":753,"s":0.17,"r":0.06},{"d":759,"s":0.47,"r":0.15},{"d":765,"s":0.31,"r":0.04},{"d":771,"s":0.13,"r":0.07},{"d":777,"s":0.71,"r":0.05},{"d":783,"s":0.36,"r":0.08},{"d":789,"s":0.05,"r":0.04},{"d":795,"s":0.59,"r":0.11},{"d":801,"s":0.24,"r":0.03},{"d":807,"s":0.97,"r":0.06},{"d":813,"s":0.2,"r":0.05},
        {"d":819,"s":0.17,"r":0.04},{"d":825,"s":0.4,"r":0.08},{"d":831,"s":0.05,"r":0.03},{"d":837,"s":0.3,"r":0.11},{"d":843,"s":0.53,"r":0.05},{"d":849,"s":0.11,"r":0.07},{"d":855,"s":0.38,"r":0.03},{"d":861,"s":0.82,"r":0.05},{"d":867,"s":0.22,"r":0.12},{"d":873,"s":0.46,"r":0.04},{"d":879,"s":0.04,"r":0.06},{"d":885,"s":0.34,"r":0.1},{"d":891,"s":0.6,"r":0.03},{"d":897,"s":0.14,"r":0.14},{"d":903,"s":0.27,"r":0.05},{"d":909,"s":1.03,"r":0.06},{"d":915,"s":0.43,"r":0.04},
        {"d":921,"s":0.1,"r":0.05},{"d":927,"s":0.36,"r":0.1},{"d":933,"s":0.51,"r":0.03},{"d":945,"s":0.23,"r":0.06},{"d":951,"s":0.72,"r":0.08},{"d":957,"s":0.15,"r":0.04},{"d":963,"s":0.41,"r":0.12},{"d":969,"s":0.06,"r":0.02},{"d":975,"s":0.31,"r":0.07},{"d":981,"s":0.57,"r":0.05},{"d":987,"s":0.2,"r":0.1},{"d":993,"s":0.91,"r":0.04},{"d":999,"s":0.28,"r":0.06},{"d":1005,"s":0.39,"r":0.03},{"d":1011,"s":0.12,"r":0.17},{"d":1017,"s":0.65,"r":0.05},
        {"d":1023,"s":0.3,"r":0.06},{"d":1029,"s":0.07,"r":0.04},{"d":1035,"s":0.47,"r":0.09},{"d":1041,"s":0.21,"r":0.03},{"d":1047,"s":0.76,"r":0.05},{"d":1053,"s":0.35,"r":0.13},{"d":1059,"s":0.14,"r":0.06},{"d":1065,"s":0.55,"r":0.04},{"d":1071,"s":0.26,"r":0.1},{"d":1077,"s":0.03,"r":0.03},{"d":1083,"s":0.67,"r":0.07},{"d":1089,"s":0.4,"r":0.05},{"d":1095,"s":0.16,"r":0.12},{"d":1101,"s":1.07,"r":0.04},{"d":1107,"s":0.29,"r":0.06},{"d":1113,"s":0.49,"r":0.03},{"d":1119,"s":0.09,"r":0.09},
        {"d":1125,"s":0.42,"r":0.05},{"d":1131,"s":0.24,"r":0.07},{"d":1137,"s":0.61,"r":0.03},{"d":1143,"s":0.06,"r":0.11},{"d":1149,"s":0.33,"r":0.04},{"d":1155,"s":0.87,"r":0.06},{"d":1161,"s":0.17,"r":0.05},{"d":1167,"s":0.5,"r":0.15},{"d":1173,"s":0.29,"r":0.03},{"d":1179,"s":0.13,"r":0.08},{"d":1185,"s":0.74,"r":0.04},{"d":1191,"s":0.37,"r":0.07},{"d":1197,"s":0.05,"r":0.05},{"d":1203,"s":0.58,"r":0.1},{"d":1209,"s":0.25,"r":0.03},{"d":1215,"s":0.96,"r":0.05},{"d":1221,"s":0.18,"r":0.06},
        {"d":1227,"s":0.19,"r":0.04},{"d":1233,"s":0.42,"r":0.07},{"d":1239,"s":0.07,"r":0.03},{"d":1245,"s":0.28,"r":0.1},{"d":1251,"s":0.56,"r":0.05},{"d":1257,"s":0.13,"r":0.08},{"d":1263,"s":0.36,"r":0.02},{"d":1269,"s":0.85,"r":0.06},{"d":1275,"s":0.2,"r":0.12},{"d":1281,"s":0.48,"r":0.04},{"d":1287,"s":0.04,"r":0.06},{"d":1293,"s":0.32,"r":0.09},{"d":1299,"s":0.63,"r":0.03},{"d":1305,"s":0.16,"r":0.15},{"d":1311,"s":0.25,"r":0.05},{"d":1317,"s":1.0,"r":0.07},{"d":1323,"s":0.45,"r":0.04},
        {"d":1329,"s":0.08,"r":0.05},{"d":1335,"s":0.34,"r":0.11},{"d":1341,"s":0.53,"r":0.03},{"d":1347,"s":0.23,"r":0.06},{"d":1353,"s":0.7,"r":0.09},{"d":1359,"s":0.15,"r":0.04},{"d":1365,"s":0.43,"r":0.13},{"d":1371,"s":0.06,"r":0.02},{"d":1377,"s":0.29,"r":0.07},{"d":1383,"s":0.59,"r":0.05},{"d":1389,"s":0.18,"r":0.1},{"d":1395,"s":0.94,"r":0.04},{"d":1401,"s":0.26,"r":0.06},{"d":1407,"s":0.41,"r":0.03},{"d":1413,"s":0.1,"r":0.18},{"d":1419,"s":0.65,"r":0.05},{"d":1425,"s":0.21,"r":0.08},
        {"d":1431,"s":0.32,"r":0.06},{"d":1437,"s":0.09,"r":0.04},{"d":1443,"s":0.45,"r":0.09},{"d":1455,"s":0.21,"r":0.03},{"d":1461,"s":0.78,"r":0.05},{"d":1467,"s":0.35,"r":0.14},{"d":1473,"s":0.12,"r":0.06},{"d":1479,"s":0.53,"r":0.04},{"d":1485,"s":0.26,"r":0.1},{"d":1491,"s":0.02,"r":0.03},{"d":1497,"s":0.67,"r":0.07},{"d":1503,"s":0.38,"r":0.05},{"d":1509,"s":0.18,"r":0.12},{"d":1515,"s":1.1,"r":0.04},{"d":1521,"s":0.27,"r":0.06},{"d":1527,"s":0.51,"r":0.03},
        {"d":1533,"s":0.11,"r":0.09},{"d":1539,"s":0.44,"r":0.05},{"d":1545,"s":0.22,"r":0.07},{"d":1551,"s":0.61,"r":0.03},{"d":1557,"s":0.07,"r":0.11},{"d":1563,"s":0.35,"r":0.04},{"d":1569,"s":0.89,"r":0.06},{"d":1575,"s":0.15,"r":0.05},{"d":1581,"s":0.48,"r":0.16},{"d":1587,"s":0.31,"r":0.03},{"d":1593,"s":0.11,"r":0.08},{"d":1599,"s":0.72,"r":0.04},{"d":1605,"s":0.39,"r":0.07},{"d":1611,"s":0.04,"r":0.05},{"d":1617,"s":0.56,"r":0.1},{"d":1623,"s":0.27,"r":0.03},{"d":1629,"s":0.94,"r":0.05},
        {"d":1635,"s":0.19,"r":0.04},{"d":1641,"s":0.4,"r":0.07},{"d":1647,"s":0.05,"r":0.03},{"d":1653,"s":0.3,"r":0.1},{"d":1659,"s":0.56,"r":0.05},{"d":1665,"s":0.11,"r":0.08},{"d":1671,"s":0.38,"r":0.02},{"d":1677,"s":0.83,"r":0.06},{"d":1683,"s":0.22,"r":0.12},{"d":1689,"s":0.46,"r":0.04},{"d":1695,"s":0.03,"r":0.06},{"d":1701,"s":0.34,"r":0.09},{"d":1713,"s":0.61,"r":0.03},{"d":1719,"s":0.16,"r":0.15},{"d":1725,"s":0.27,"r":0.05},{"d":1731,"s":1.0,"r":0.07},
        {"d":1737,"s":0.43,"r":0.04},{"d":1743,"s":0.1,"r":0.05},{"d":1749,"s":0.36,"r":0.11},{"d":1755,"s":0.51,"r":0.03},{"d":1761,"s":0.25,"r":0.06},{"d":1767,"s":0.7,"r":0.09},{"d":1773,"s":0.13,"r":0.04},{"d":1779,"s":0.43,"r":0.13},{"d":1785,"s":0.06,"r":0.02},{"d":1791,"s":0.31,"r":0.07},{"d":1797,"s":0.57,"r":0.05},{"d":1803,"s":0.2,"r":0.1},{"d":1809,"s":0.92,"r":0.04},{"d":1815,"s":0.28,"r":0.06},{"d":1821,"s":0.39,"r":0.03},{"d":1827,"s":0.12,"r":0.17},{"d":1833,"s":0.63,"r":0.05},
        {"d":1839,"s":0.23,"r":0.08},{"d":1845,"s":0.3,"r":0.06},{"d":1851,"s":0.07,"r":0.04},{"d":1857,"s":0.47,"r":0.09},{"d":1863,"s":0.21,"r":0.03},{"d":1869,"s":0.76,"r":0.05},{"d":1875,"s":0.37,"r":0.14},{"d":1881,"s":0.14,"r":0.06},{"d":1887,"s":0.55,"r":0.04},{"d":1893,"s":0.24,"r":0.1},{"d":1899,"s":0.03,"r":0.03},{"d":1905,"s":0.69,"r":0.07},{"d":1911,"s":0.4,"r":0.05},{"d":1917,"s":0.17,"r":0.12},{"d":1923,"s":1.08,"r":0.04},{"d":1929,"s":0.29,"r":0.06},{"d":1935,"s":0.48,"r":0.03},
        {"d":1941,"s":0.1,"r":0.09},{"d":1947,"s":0.42,"r":0.05},{"d":1953,"s":0.24,"r":0.07},{"d":1959,"s":0.59,"r":0.03},{"d":1965,"s":0.07,"r":0.11},{"d":1971,"s":0.33,"r":0.04},{"d":1977,"s":0.86,"r":0.06},{"d":1983,"s":0.16,"r":0.05},{"d":1989,"s":0.5,"r":0.16},{"d":1995,"s":0.3,"r":0.03},{"d":2001,"s":0.12,"r":0.08},{"d":2007,"s":0.74,"r":0.04},{"d":2013,"s":0.37,"r":0.07},{"d":2019,"s":0.05,"r":0.05},{"d":2025,"s":0.58,"r":0.1},{"d":2031,"s":0.25,"r":0.03},{"d":2037,"s":0.93,"r":0.05},
        {"d":2043,"s":0.19,"r":0.06},{"d":2049,"s":0.19,"r":0.04},{"d":2055,"s":0.42,"r":0.07},{"d":2061,"s":0.06,"r":0.03},{"d":2067,"s":0.3,"r":0.1},{"d":2073,"s":0.54,"r":0.05},{"d":2079,"s":0.12,"r":0.08},{"d":2085,"s":0.36,"r":0.02},{"d":2091,"s":0.83,"r":0.06},{"d":2099,"s":0.22,"r":0.12},{"d":2103,"s":0.47,"r":0.04},{"d":2109,"s":0.03,"r":0.06},{"d":2115,"s":0.33,"r":0.09},{"d":2121,"s":0.63,"r":0.03},{"d":2127,"s":0.15,"r":0.15},{"d":2133,"s":0.26,"r":0.05},{"d":2139,"s":1.02,"r":0.07},
        {"d":2145,"s":0.44,"r":0.04},{"d":2151,"s":0.09,"r":0.05},{"d":2157,"s":0.35,"r":0.11},{"d":2163,"s":0.52,"r":0.03},{"d":2169,"s":0.24,"r":0.06},{"d":2175,"s":0.71,"r":0.09},{"d":2181,"s":0.14,"r":0.04},{"d":2187,"s":0.42,"r":0.13},{"d":2193,"s":0.05,"r":0.02},{"d":2199,"s":0.3,"r":0.07},{"d":2205,"s":0.58,"r":0.05},{"d":2211,"s":0.19,"r":0.1},{"d":2217,"s":0.93,"r":0.04},{"d":2223,"s":0.27,"r":0.06},{"d":2229,"s":0.4,"r":0.03},{"d":2235,"s":0.11,"r":0.18},{"d":2241,"s":0.64,"r":0.05},
        {"d":2247,"s":0.31,"r":0.06},{"d":2253,"s":0.08,"r":0.04},{"d":2259,"s":0.46,"r":0.09},{"d":2265,"s":0.2,"r":0.03},{"d":2271,"s":0.77,"r":0.05},{"d":2277,"s":0.36,"r":0.14},{"d":2283,"s":0.13,"r":0.06},{"d":2289,"s":0.54,"r":0.04},{"d":2295,"s":0.25,"r":0.1},{"d":2301,"s":0.02,"r":0.03},{"d":2307,"s":0.68,"r":0.07},{"d":2313,"s":0.39,"r":0.05},{"d":2319,"s":0.17,"r":0.12},{"d":2325,"s":1.09,"r":0.04},{"d":2337,"s":0.28,"r":0.06},{"d":2343,"s":0.5,"r":0.03},
        {"d":2349,"s":0.1,"r":0.09},{"d":2355,"s":0.43,"r":0.05},{"d":2361,"s":0.23,"r":0.07},{"d":2367,"s":0.6,"r":0.03},{"d":2373,"s":0.07,"r":0.11},{"d":2379,"s":0.34,"r":0.04},{"d":2385,"s":0.88,"r":0.06},{"d":2391,"s":0.16,"r":0.05},{"d":2397,"s":0.49,"r":0.16},{"d":2403,"s":0.3,"r":0.03},{"d":2409,"s":0.12,"r":0.08},{"d":2415,"s":0.73,"r":0.04},{"d":2421,"s":0.38,"r":0.07},{"d":2427,"s":0.04,"r":0.05},{"d":2433,"s":0.57,"r":0.1},{"d":2439,"s":0.26,"r":0.03},{"d":2445,"s":0.95,"r":0.05},
        {"d":2451,"s":0.19,"r":0.06},{"d":2457,"s":0.2,"r":0.05},{"d":2463,"s":0.43,"r":0.06},{"d":2469,"s":0.07,"r":0.04},{"d":2475,"s":0.32,"r":0.09},{"d":2481,"s":0.51,"r":0.03},{"d":2487,"s":0.13,"r":0.1},{"d":2493,"s":0.39,"r":0.04},{"d":2499,"s":0.8,"r":0.07},{"d":2505,"s":0.24,"r":0.13},{"d":2511,"s":0.45,"r":0.05},{"d":2517,"s":0.05,"r":0.04},{"d":2523,"s":0.3,"r":0.08},{"d":2529,"s":0.66,"r":0.02},{"d":2535,"s":0.16,"r":0.14},{"d":2541,"s":0.28,"r":0.06},{"d":2547,"s":1.12,"r":0.09},
        {"d":2553,"s":0.42,"r":0.03},{"d":2559,"s":0.11,"r":0.06},{"d":2565,"s":0.33,"r":0.12},{"d":2571,"s":0.5,"r":0.04},{"d":2577,"s":0.26,"r":0.05},{"d":2583,"s":0.69,"r":0.08},{"d":2589,"s":0.15,"r":0.03},{"d":2595,"s":0.4,"r":0.11},{"d":2601,"s":0.06,"r":0.04},{"d":2607,"s":0.32,"r":0.06},{"d":2613,"s":0.61,"r":0.05},{"d":2619,"s":0.18,"r":0.09},{"d":2625,"s":0.9,"r":0.05},{"d":2631,"s":0.25,"r":0.07},{"d":2637,"s":0.41,"r":0.02},{"d":2643,"s":0.12,"r":0.16},{"d":2649,"s":0.63,"r":0.04},
        {"d":2655,"s":0.23,"r":0.07},{"d":2661,"s":0.29,"r":0.05},{"d":2667,"s":0.09,"r":0.03},{"d":2673,"s":0.48,"r":0.08},{"d":2679,"s":0.19,"r":0.04},{"d":2685,"s":0.75,"r":0.06},{"d":2691,"s":0.35,"r":0.12},{"d":2697,"s":0.14,"r":0.05},{"d":2703,"s":0.56,"r":0.03},{"d":2709,"s":0.24,"r":0.11},{"d":2715,"s":0.03,"r":0.04},{"d":2721,"s":0.7,"r":0.06},{"d":2727,"s":0.37,"r":0.05},{"d":2733,"s":0.18,"r":0.13},{"d":2739,"s":1.04,"r":0.03},{"d":2745,"s":0.27,"r":0.07},{"d":2751,"s":0.52,"r":0.04},
        {"d":2757,"s":0.11,"r":0.08},{"d":2763,"s":0.44,"r":0.06},{"d":2769,"s":0.21,"r":0.07},{"d":2775,"s":0.58,"r":0.04},{"d":2781,"s":0.08,"r":0.1},{"d":2787,"s":0.36,"r":0.03},{"d":2793,"s":0.86,"r":0.05},{"d":2799,"s":0.17,"r":0.06},{"d":2805,"s":0.47,"r":0.15},{"d":2811,"s":0.31,"r":0.04},{"d":2817,"s":0.13,"r":0.07},{"d":2823,"s":0.71,"r":0.05},{"d":2829,"s":0.36,"r":0.08},{"d":2835,"s":0.05,"r":0.04},{"d":2841,"s":0.59,"r":0.11},{"d":2847,"s":0.24,"r":0.03},{"d":2853,"s":0.97,"r":0.06},
        {"d":2859,"s":0.2,"r":0.05},{"d":2865,"s":0.17,"r":0.04},{"d":2871,"s":0.4,"r":0.08},{"d":2877,"s":0.05,"r":0.03},{"d":2883,"s":0.3,"r":0.11},{"d":2889,"s":0.53,"r":0.05},{"d":2895,"s":0.11,"r":0.07},{"d":2901,"s":0.38,"r":0.03},{"d":2907,"s":0.82,"r":0.05},{"d":2913,"s":0.22,"r":0.12},{"d":2919,"s":0.46,"r":0.04},{"d":2925,"s":0.04,"r":0.06},{"d":2931,"s":0.34,"r":0.1},{"d":2937,"s":0.6,"r":0.03},{"d":2949,"s":0.14,"r":0.14},{"d":2955,"s":0.27,"r":0.05},
        {"d":2961,"s":1.01,"r":0.06},{"d":2967,"s":0.43,"r":0.04},{"d":2973,"s":0.1,"r":0.05},{"d":2979,"s":0.36,"r":0.1},{"d":2985,"s":0.51,"r":0.03},{"d":2991,"s":0.23,"r":0.06},{"d":2997,"s":0.72,"r":0.08},{"d":3003,"s":0.15,"r":0.04},{"d":3009,"s":0.41,"r":0.12},{"d":3021,"s":0.06,"r":0.02},{"d":3027,"s":0.31,"r":0.07},{"d":3033,"s":0.57,"r":0.05},{"d":3039,"s":0.2,"r":0.1},{"d":3045,"s":0.91,"r":0.04},{"d":3051,"s":0.28,"r":0.06},{"d":3057,"s":0.39,"r":0.03},
        {"d":3063,"s":0.12,"r":0.17},{"d":3069,"s":0.65,"r":0.05},{"d":3075,"s":0.3,"r":0.06},{"d":3081,"s":0.07,"r":0.04},{"d":3087,"s":0.47,"r":0.09},{"d":3093,"s":0.21,"r":0.03},{"d":3099,"s":0.76,"r":0.05},{"d":3105,"s":0.35,"r":0.13},{"d":3111,"s":0.14,"r":0.06},{"d":3117,"s":0.55,"r":0.04},{"d":3123,"s":0.26,"r":0.1},{"d":3129,"s":0.03,"r":0.03},{"d":3135,"s":0.67,"r":0.07},{"d":3141,"s":0.4,"r":0.05},{"d":3147,"s":0.16,"r":0.12},{"d":3153,"s":1.07,"r":0.04},{"d":3159,"s":0.29,"r":0.06},
        {"d":3165,"s":0.49,"r":0.03},{"d":3171,"s":0.09,"r":0.09},{"d":3177,"s":0.42,"r":0.05},{"d":3183,"s":0.24,"r":0.07},{"d":3189,"s":0.61,"r":0.03},{"d":3195,"s":0.06,"r":0.11},{"d":3201,"s":0.33,"r":0.04},{"d":3207,"s":0.87,"r":0.06},{"d":3213,"s":0.17,"r":0.05},{"d":3219,"s":0.5,"r":0.15},{"d":3225,"s":0.29,"r":0.03},{"d":3231,"s":0.13,"r":0.08},{"d":3237,"s":0.74,"r":0.04},{"d":3243,"s":0.37,"r":0.07},{"d":3249,"s":0.05,"r":0.05},{"d":3261,"s":0.58,"r":0.1},
        {"d":3267,"s":0.25,"r":0.03},{"d":3273,"s":0.96,"r":0.05},{"d":3279,"s":0.18,"r":0.06},{"d":3285,"s":0.19,"r":0.04},{"d":3291,"s":0.42,"r":0.07},{"d":3297,"s":0.07,"r":0.03},{"d":3303,"s":0.28,"r":0.1},{"d":3309,"s":0.56,"r":0.05},{"d":3315,"s":0.13,"r":0.08},{"d":3321,"s":0.36,"r":0.02},{"d":3327,"s":0.85,"r":0.06},{"d":3333,"s":0.2,"r":0.12},{"d":3339,"s":0.48,"r":0.04},{"d":3345,"s":0.04,"r":0.06},{"d":3351,"s":0.32,"r":0.09},{"d":3357,"s":0.63,"r":0.03},{"d":3363,"s":0.16,"r":0.15},
        {"d":3369,"s":0.25,"r":0.05},{"d":3375,"s":1.0,"r":0.07},{"d":3381,"s":0.45,"r":0.04},{"d":3387,"s":0.08,"r":0.05},{"d":3393,"s":0.34,"r":0.11},{"d":3399,"s":0.53,"r":0.03},{"d":3405,"s":0.23,"r":0.06},{"d":3411,"s":0.7,"r":0.09},{"d":3417,"s":0.15,"r":0.04},{"d":3423,"s":0.43,"r":0.13},{"d":3429,"s":0.06,"r":0.02},{"d":3435,"s":0.29,"r":0.07},{"d":3441,"s":0.59,"r":0.05},{"d":3447,"s":0.18,"r":0.1},{"d":3453,"s":0.94,"r":0.04},{"d":3459,"s":0.26,"r":0.06},{"d":3465,"s":0.41,"r":0.03},
        {"d":3471,"s":0.1,"r":0.18},{"d":3477,"s":0.65,"r":0.05},{"d":3483,"s":0.21,"r":0.08},{"d":3489,"s":0.32,"r":0.06},{"d":3495,"s":0.09,"r":0.04},{"d":3501,"s":0.45,"r":0.09},{"d":3507,"s":0.21,"r":0.03},{"d":3513,"s":0.78,"r":0.05},{"d":3519,"s":0.35,"r":0.14},{"d":3525,"s":0.12,"r":0.06},{"d":3531,"s":0.53,"r":0.04},{"d":3537,"s":0.26,"r":0.1},{"d":3543,"s":0.02,"r":0.03},{"d":3549,"s":0.67,"r":0.07},{"d":3555,"s":0.38,"r":0.05},{"d":3561,"s":0.18,"r":0.12},{"d":3567,"s":1.1,"r":0.04},
        {"d":3573,"s":0.27,"r":0.06},{"d":3579,"s":0.51,"r":0.03},{"d":3585,"s":0.11,"r":0.09},{"d":3591,"s":0.44,"r":0.05},{"d":3597,"s":0.22,"r":0.07},{"d":3603,"s":0.61,"r":0.03},{"d":3609,"s":0.07,"r":0.11},{"d":3615,"s":0.35,"r":0.04},{"d":3621,"s":0.89,"r":0.06},{"d":3627,"s":0.15,"r":0.05},{"d":3633,"s":0.48,"r":0.16},{"d":3639,"s":0.31,"r":0.03},{"d":3645,"s":0.11,"r":0.08},{"d":3651,"s":0.72,"r":0.04},{"d":3657,"s":0.39,"r":0.07},{"d":3663,"s":0.04,"r":0.05},{"d":3669,"s":0.56,"r":0.1},
        {"d":3675,"s":0.27,"r":0.03},{"d":3681,"s":0.94,"r":0.05},{"d":3687,"s":0.19,"r":0.06},{"d":3693,"s":0.4,"r":0.07},{"d":3699,"s":0.05,"r":0.03},{"d":3705,"s":0.3,"r":0.1},{"d":3711,"s":0.56,"r":0.05},{"d":3717,"s":0.11,"r":0.08},{"d":3723,"s":0.38,"r":0.02},{"d":3729,"s":0.83,"r":0.06},{"d":3735,"s":0.22,"r":0.12},{"d":3741,"s":0.46,"r":0.04},{"d":3747,"s":0.03,"r":0.06},{"d":3753,"s":0.34,"r":0.09},{"d":3759,"s":0.61,"r":0.03},{"d":3765,"s":0.16,"r":0.15},{"d":3771,"s":0.27,"r":0.05},
        {"d":3777,"s":1.0,"r":0.07},{"d":3783,"s":0.43,"r":0.04},{"d":3789,"s":0.1,"r":0.05},{"d":3795,"s":0.36,"r":0.11},{"d":3801,"s":0.51,"r":0.03},{"d":3807,"s":0.25,"r":0.06},{"d":3813,"s":0.7,"r":0.09},{"d":3819,"s":0.13,"r":0.04},{"d":3825,"s":0.43,"r":0.13},{"d":3831,"s":0.06,"r":0.02},{"d":3837,"s":0.31,"r":0.07},{"d":3843,"s":0.57,"r":0.05},{"d":3849,"s":0.2,"r":0.1},{"d":3855,"s":0.92,"r":0.04},{"d":3861,"s":0.28,"r":0.06},{"d":3867,"s":0.39,"r":0.03},{"d":3873,"s":0.12,"r":0.17},
        {"d":3879,"s":0.63,"r":0.05},{"d":3885,"s":0.23,"r":0.08},{"d":3891,"s":0.3,"r":0.06},{"d":3897,"s":0.07,"r":0.04},{"d":3903,"s":0.47,"r":0.09},{"d":3909,"s":0.21,"r":0.03},{"d":3915,"s":0.76,"r":0.05},{"d":3921,"s":0.37,"r":0.14},{"d":3927,"s":0.14,"r":0.06},{"d":3933,"s":0.55,"r":0.04},{"d":3939,"s":0.24,"r":0.1},{"d":3945,"s":0.03,"r":0.03},{"d":3951,"s":0.69,"r":0.07},{"d":3957,"s":0.4,"r":0.05},{"d":3963,"s":0.17,"r":0.12},{"d":3969,"s":1.08,"r":0.04},{"d":3975,"s":0.29,"r":0.06},
        {"d":3981,"s":0.48,"r":0.03},{"d":3987,"s":0.1,"r":0.09},{"d":3993,"s":0.42,"r":0.05},{"d":3999,"s":0.24,"r":0.07},{"d":4005,"s":0.59,"r":0.03},{"d":4011,"s":0.07,"r":0.11},{"d":4017,"s":0.33,"r":0.04},{"d":4023,"s":0.86,"r":0.06},{"d":4029,"s":0.16,"r":0.05},{"d":4035,"s":0.5,"r":0.16},{"d":4041,"s":0.3,"r":0.03},{"d":4047,"s":0.12,"r":0.08},{"d":4053,"s":0.74,"r":0.04},{"d":4059,"s":0.37,"r":0.07},{"d":4065,"s":0.05,"r":0.05},{"d":4071,"s":0.58,"r":0.1},{"d":4077,"s":0.25,"r":0.03},
        {"d":4083,"s":0.93,"r":0.05},{"d":4086,"s":0.19,"r":0.06},{"d":4089,"s":0.55,"r":0.04},{"d":4094,"s":0.12,"r":0.07},
        {"d":7,"s":0.34,"r":0.05},{"d":19,"s":0.12,"r":0.08},{"d":31,"s":0.58,"r":0.03},{"d":43,"s":0.27,"r":0.11},{"d":55,"s":0.81,"r":0.04},{"d":67,"s":0.05,"r":0.06},{"d":79,"s":0.44,"r":0.09},{"d":91,"s":0.19,"r":0.03},{"d":103,"s":0.66,"r":0.07},{"d":115,"s":0.38,"r":0.13},{"d":127,"s":0.09,"r":0.04},{"d":139,"s":0.52,"r":0.05},{"d":151,"s":0.23,"r":0.1},{"d":163,"s":0.9,"r":0.03},{"d":175,"s":0.31,"r":0.06},{"d":187,"s":0.15,"r":0.12},{"d":199,"s":0.72,"r":0.04},{"d":211,"s":0.47,"r":0.07},{"d":223,"s":0.04,"r":0.05},{"d":235,"s":0.28,"r":0.09},
        {"d":247,"s":0.21,"r":0.07},{"d":259,"s":0.49,"r":0.04},{"d":271,"s":0.07,"r":0.1},{"d":283,"s":0.63,"r":0.05},{"d":295,"s":0.36,"r":0.03},{"d":307,"s":0.14,"r":0.12},{"d":319,"s":0.77,"r":0.06},{"d":331,"s":0.25,"r":0.04},{"d":343,"s":0.41,"r":0.08},{"d":355,"s":0.02,"r":0.05},{"d":367,"s":0.56,"r":0.03},{"d":379,"s":0.32,"r":0.09},{"d":391,"s":0.18,"r":0.06},{"d":403,"s":0.85,"r":0.04},{"d":415,"s":0.45,"r":0.14},{"d":427,"s":0.1,"r":0.05},{"d":439,"s":0.6,"r":0.07},{"d":451,"s":0.29,"r":0.03},{"d":463,"s":0.95,"r":0.06},{"d":475,"s":0.16,"r":0.1},
        {"d":487,"s":0.4,"r":0.04},{"d":499,"s":0.08,"r":0.09},{"d":511,"s":0.3,"r":0.06},{"d":523,"s":0.69,"r":0.03},{"d":535,"s":0.17,"r":0.11},{"d":547,"s":0.54,"r":0.05},{"d":559,"s":0.26,"r":0.08},{"d":571,"s":0.11,"r":0.04},{"d":583,"s":0.79,"r":0.06},{"d":595,"s":0.35,"r":0.1},{"d":607,"s":0.48,"r":0.03},{"d":619,"s":0.03,"r":0.07},{"d":631,"s":0.62,"r":0.05},{"d":643,"s":0.22,"r":0.13},{"d":655,"s":0.37,"r":0.04},{"d":667,"s":0.13,"r":0.06},{"d":679,"s":0.87,"r":0.03},{"d":691,"s":0.5,"r":0.08},{"d":703,"s":0.24,"r":0.05},{"d":715,"s":0.06,"r":0.11},
        {"d":727,"s":0.28,"r":0.09},{"d":739,"s":0.04,"r":0.05},{"d":751,"s":0.47,"r":0.07},{"d":763,"s":0.72,"r":0.04},{"d":775,"s":0.15,"r":0.12},{"d":787,"s":0.31,"r":0.06},{"d":799,"s":0.9,"r":0.03},{"d":811,"s":0.23,"r":0.1},{"d":823,"s":0.52,"r":0.05},{"d":835,"s":0.09,"r":0.04},{"d":847,"s":0.38,"r":0.13},{"d":859,"s":0.66,"r":0.07},{"d":871,"s":0.19,"r":0.03},{"d":883,"s":0.44,"r":0.09},{"d":895,"s":0.05,"r":0.06},{"d":907,"s":0.81,"r":0.04},{"d":919,"s":0.27,"r":0.11},{"d":931,"s":0.58,"r":0.03},{"d":943,"s":0.12,"r":0.08},{"d":955,"s":0.34,"r":0.05},
        {"d":967,"s":0.16,"r":0.1},{"d":979,"s":0.95,"r":0.06},{"d":991,"s":0.29,"r":0.03},{"d":1003,"s":0.6,"r":0.07},{"d":1015,"s":0.1,"r":0.05},{"d":1027,"s":0.45,"r":0.14},{"d":1039,"s":0.85,"r":0.04},{"d":1051,"s":0.18,"r":0.06},{"d":1063,"s":0.32,"r":0.09},{"d":1075,"s":0.56,"r":0.03},{"d":1087,"s":0.02,"r":0.05},{"d":1099,"s":0.41,"r":0.08},{"d":1111,"s":0.25,"r":0.04},{"d":1123,"s":0.77,"r":0.06},{"d":1135,"s":0.14,"r":0.12},{"d":1147,"s":0.36,"r":0.03},{"d":1159,"s":0.63,"r":0.05},{"d":1171,"s":0.07,"r":0.1},{"d":1183,"s":0.49,"r":0.04},{"d":1195,"s":0.21,"r":0.07},
        {"d":1207,"s":0.06,"r":0.11},{"d":1219,"s":0.24,"r":0.05},{"d":1231,"s":0.5,"r":0.08},{"d":1243,"s":0.87,"r":0.03},{"d":1255,"s":0.13,"r":0.06},{"d":1267,"s":0.37,"r":0.04},{"d":1279,"s":0.22,"r":0.13},{"d":1291,"s":0.62,"r":0.05},{"d":1303,"s":0.03,"r":0.07},{"d":1315,"s":0.48,"r":0.03},{"d":1327,"s":0.35,"r":0.1},{"d":1339,"s":0.79,"r":0.06},{"d":1351,"s":0.11,"r":0.04},{"d":1363,"s":0.26,"r":0.08},{"d":1375,"s":0.54,"r":0.05},{"d":1387,"s":0.17,"r":0.11},{"d":1399,"s":0.69,"r":0.03},{"d":1411,"s":0.3,"r":0.06},{"d":1423,"s":0.08,"r":0.09},{"d":1435,"s":0.4,"r":0.04},
        {"d":1447,"s":0.34,"r":0.05},{"d":1459,"s":0.12,"r":0.08},{"d":1471,"s":0.58,"r":0.03},{"d":1483,"s":0.27,"r":0.11},{"d":1495,"s":0.81,"r":0.04},{"d":1507,"s":0.05,"r":0.06},{"d":1519,"s":0.44,"r":0.09},{"d":1531,"s":0.19,"r":0.03},{"d":1543,"s":0.66,"r":0.07},{"d":1555,"s":0.38,"r":0.13},{"d":1567,"s":0.09,"r":0.04},{"d":1579,"s":0.52,"r":0.05},{"d":1591,"s":0.23,"r":0.1},{"d":1603,"s":0.9,"r":0.03},{"d":1615,"s":0.31,"r":0.06},{"d":1627,"s":0.15,"r":0.12},{"d":1639,"s":0.72,"r":0.04},{"d":1651,"s":0.47,"r":0.07},{"d":1663,"s":0.04,"r":0.05},{"d":1675,"s":0.28,"r":0.09},
        {"d":1687,"s":0.21,"r":0.07},{"d":1699,"s":0.49,"r":0.04},{"d":1711,"s":0.07,"r":0.1},{"d":1723,"s":0.63,"r":0.05},{"d":1735,"s":0.36,"r":0.03},{"d":1747,"s":0.14,"r":0.12},{"d":1759,"s":0.77,"r":0.06},{"d":1771,"s":0.25,"r":0.04},{"d":1783,"s":0.41,"r":0.08},{"d":1795,"s":0.02,"r":0.05},{"d":1807,"s":0.56,"r":0.03},{"d":1819,"s":0.32,"r":0.09},{"d":1831,"s":0.18,"r":0.06},{"d":1843,"s":0.85,"r":0.04},{"d":1855,"s":0.45,"r":0.14},{"d":1867,"s":0.1,"r":0.05},{"d":1879,"s":0.6,"r":0.07},{"d":1891,"s":0.29,"r":0.03},{"d":1903,"s":0.95,"r":0.06},{"d":1915,"s":0.16,"r":0.1},
        {"d":1927,"s":0.4,"r":0.04},{"d":1939,"s":0.08,"r":0.09},{"d":1951,"s":0.3,"r":0.06},{"d":1963,"s":0.69,"r":0.03},{"d":1975,"s":0.17,"r":0.11},{"d":1987,"s":0.54,"r":0.05},{"d":1999,"s":0.26,"r":0.08},{"d":2011,"s":0.11,"r":0.04},{"d":2023,"s":0.79,"r":0.06},{"d":2035,"s":0.35,"r":0.1},{"d":2047,"s":0.48,"r":0.03},{"d":2059,"s":0.03,"r":0.07},{"d":2071,"s":0.62,"r":0.05},{"d":2083,"s":0.22,"r":0.13},{"d":2095,"s":0.37,"r":0.04},{"d":2107,"s":0.13,"r":0.06},{"d":2119,"s":0.87,"r":0.03},{"d":2131,"s":0.5,"r":0.08},{"d":2143,"s":0.24,"r":0.05},{"d":2155,"s":0.06,"r":0.11},
        {"d":2167,"s":0.28,"r":0.09},{"d":2179,"s":0.04,"r":0.05},{"d":2191,"s":0.47,"r":0.07},{"d":2203,"s":0.72,"r":0.04},{"d":2215,"s":0.15,"r":0.12},{"d":2227,"s":0.31,"r":0.06},{"d":2239,"s":0.9,"r":0.03},{"d":2251,"s":0.23,"r":0.1},{"d":2263,"s":0.52,"r":0.05},{"d":2275,"s":0.09,"r":0.04},{"d":2287,"s":0.38,"r":0.13},{"d":2299,"s":0.66,"r":0.07},{"d":2311,"s":0.19,"r":0.03},{"d":2323,"s":0.44,"r":0.09},{"d":2335,"s":0.05,"r":0.06},{"d":2347,"s":0.81,"r":0.04},{"d":2359,"s":0.27,"r":0.11},{"d":2371,"s":0.58,"r":0.03},{"d":2383,"s":0.12,"r":0.08},{"d":2395,"s":0.34,"r":0.05},
        {"d":2407,"s":0.16,"r":0.1},{"d":2419,"s":0.95,"r":0.06},{"d":2431,"s":0.29,"r":0.03},{"d":2443,"s":0.6,"r":0.07},{"d":2455,"s":0.1,"r":0.05},{"d":2467,"s":0.45,"r":0.14},{"d":2479,"s":0.85,"r":0.04},{"d":2491,"s":0.18,"r":0.06},{"d":2503,"s":0.32,"r":0.09},{"d":2515,"s":0.56,"r":0.03},{"d":2527,"s":0.02,"r":0.05},{"d":2539,"s":0.41,"r":0.08},{"d":2551,"s":0.25,"r":0.04},{"d":2563,"s":0.77,"r":0.06},{"d":2575,"s":0.14,"r":0.12},{"d":2587,"s":0.36,"r":0.03},{"d":2599,"s":0.63,"r":0.05},{"d":2611,"s":0.07,"r":0.1},{"d":2623,"s":0.49,"r":0.04},{"d":2635,"s":0.21,"r":0.07},
        {"d":2647,"s":0.06,"r":0.11},{"d":2659,"s":0.24,"r":0.05},{"d":2671,"s":0.5,"r":0.08},{"d":2683,"s":0.87,"r":0.03},{"d":2695,"s":0.13,"r":0.06},{"d":2707,"s":0.37,"r":0.04},{"d":2719,"s":0.22,"r":0.13},{"d":2731,"s":0.62,"r":0.05},{"d":2743,"s":0.03,"r":0.07},{"d":2755,"s":0.48,"r":0.03},{"d":2767,"s":0.35,"r":0.1},{"d":2779,"s":0.79,"r":0.06},{"d":2791,"s":0.11,"r":0.04},{"d":2803,"s":0.26,"r":0.08},{"d":2815,"s":0.54,"r":0.05},{"d":2827,"s":0.17,"r":0.11},{"d":2839,"s":0.69,"r":0.03},{"d":2851,"s":0.3,"r":0.06},{"d":2863,"s":0.08,"r":0.09},{"d":2875,"s":0.4,"r":0.04},
        {"d":2887,"s":0.34,"r":0.05},{"d":2899,"s":0.12,"r":0.08},{"d":2911,"s":0.58,"r":0.03},{"d":2923,"s":0.27,"r":0.11},{"d":2935,"s":0.81,"r":0.04},{"d":2947,"s":0.05,"r":0.06},{"d":2959,"s":0.44,"r":0.09},{"d":2971,"s":0.19,"r":0.03},{"d":2983,"s":0.66,"r":0.07},{"d":2995,"s":0.38,"r":0.13},{"d":3007,"s":0.09,"r":0.04},{"d":3019,"s":0.52,"r":0.05},{"d":3031,"s":0.23,"r":0.1},{"d":3043,"s":0.9,"r":0.03},{"d":3055,"s":0.31,"r":0.06},{"d":3067,"s":0.15,"r":0.12},{"d":3079,"s":0.72,"r":0.04},{"d":3091,"s":0.47,"r":0.07},{"d":3103,"s":0.04,"r":0.05},{"d":3115,"s":0.28,"r":0.09},
        {"d":3127,"s":0.21,"r":0.07},{"d":3139,"s":0.49,"r":0.04},{"d":3151,"s":0.07,"r":0.1},{"d":3163,"s":0.63,"r":0.05},{"d":3175,"s":0.36,"r":0.03},{"d":3187,"s":0.14,"r":0.12},{"d":3199,"s":0.77,"r":0.06},{"d":3211,"s":0.25,"r":0.04},{"d":3223,"s":0.41,"r":0.08},{"d":3235,"s":0.02,"r":0.05},{"d":3247,"s":0.56,"r":0.03},{"d":3259,"s":0.32,"r":0.09},{"d":3271,"s":0.18,"r":0.06},{"d":3283,"s":0.85,"r":0.04},{"d":3295,"s":0.45,"r":0.14},{"d":3307,"s":0.1,"r":0.05},{"d":3319,"s":0.6,"r":0.07},{"d":3331,"s":0.29,"r":0.03},{"d":3343,"s":0.95,"r":0.06},{"d":3355,"s":0.16,"r":0.1},
        {"d":3367,"s":0.4,"r":0.04},{"d":3379,"s":0.08,"r":0.09},{"d":3391,"s":0.3,"r":0.06},{"d":3403,"s":0.69,"r":0.03},{"d":3415,"s":0.17,"r":0.11},{"d":3427,"s":0.54,"r":0.05},{"d":3439,"s":0.26,"r":0.08},{"d":3451,"s":0.11,"r":0.04},{"d":3463,"s":0.79,"r":0.06},{"d":3475,"s":0.35,"r":0.1},{"d":3487,"s":0.48,"r":0.03},{"d":3499,"s":0.03,"r":0.07},{"d":3511,"s":0.62,"r":0.05},{"d":3523,"s":0.22,"r":0.13},{"d":3535,"s":0.37,"r":0.04},{"d":3547,"s":0.13,"r":0.06},{"d":3559,"s":0.87,"r":0.03},{"d":3571,"s":0.5,"r":0.08},{"d":3583,"s":0.24,"r":0.05},{"d":3595,"s":0.06,"r":0.11},
        {"d":3607,"s":0.28,"r":0.09},{"d":3619,"s":0.04,"r":0.05},{"d":3631,"s":0.47,"r":0.07},{"d":3643,"s":0.72,"r":0.04},{"d":3655,"s":0.15,"r":0.12},{"d":3667,"s":0.31,"r":0.06},{"d":3679,"s":0.9,"r":0.03},{"d":3691,"s":0.23,"r":0.1},{"d":3703,"s":0.52,"r":0.05},{"d":3715,"s":0.09,"r":0.04},{"d":3727,"s":0.38,"r":0.13},{"d":3739,"s":0.66,"r":0.07},{"d":3751,"s":0.19,"r":0.03},{"d":3763,"s":0.44,"r":0.09},{"d":3775,"s":0.05,"r":0.06},{"d":3787,"s":0.81,"r":0.04},{"d":3799,"s":0.27,"r":0.11},{"d":3811,"s":0.58,"r":0.03},{"d":3823,"s":0.12,"r":0.08},{"d":3835,"s":0.34,"r":0.05},
        {"d":3847,"s":0.16,"r":0.1},{"d":3859,"s":0.95,"r":0.06},{"d":3871,"s":0.29,"r":0.03},{"d":3883,"s":0.6,"r":0.07},{"d":3895,"s":0.1,"r":0.05},{"d":3907,"s":0.45,"r":0.14},{"d":3919,"s":0.85,"r":0.04},{"d":3931,"s":0.18,"r":0.06},{"d":3943,"s":0.32,"r":0.09},{"d":3955,"s":0.56,"r":0.03},{"d":3967,"s":0.02,"r":0.05},{"d":3979,"s":0.41,"r":0.08},{"d":3991,"s":0.25,"r":0.04},{"d":4003,"s":0.77,"r":0.06},{"d":4015,"s":0.14,"r":0.12},{"d":4027,"s":0.36,"r":0.03},{"d":4039,"s":0.63,"r":0.05},{"d":4051,"s":0.07,"r":0.1},{"d":4063,"s":0.49,"r":0.04},{"d":4075,"s":0.21,"r":0.07},
        {"d":4087,"s":0.33,"r":0.06}
      ]},
      "mark": {"type": "circle", "size": 900, "opacity": 1, "stroke": "#333333", "strokeWidth": 1.2},
      "encoding": {
        "x": {
          "field": "d", "type": "quantitative",
          "scale": {"domain": [-49, 4146], "nice": false, "zero": false},
          "axis": {
            "values": [0, 1000, 2000, 3000, 4000], "format": "d",
            "grid": true, "gridColor": "#000000", "gridOpacity": 0.1, "gridWidth": 5.5,
            "ticks": false, "domainColor": "#f2f2f2", "domainWidth": 12,
            "labelFontSize": 148, "labelPadding": 25,
            "title": "Dimension of Embedding", "titleFontSize": 108, "titlePadding": 18
          }
        },
        "y": {
          "field": "s", "type": "quantitative",
          "scale": {"domain": [-1.63, 33.6], "nice": false, "zero": false},
          "axis": {
            "values": [0, 10, 20, 30],
            "grid": true, "gridColor": "#000000", "gridOpacity": 0.1, "gridWidth": 5.5,
            "ticks": false, "domainColor": "#f2f2f2", "domainWidth": 12,
            "labelFontSize": 148, "labelPadding": 34,
            "title": "Slopes of each Dim.", "titleFontSize": 107, "titlePadding": 13
          }
        },
        "color": {
          "field": "r", "type": "quantitative",
          "scale": {
            "domain": [0, 0.5746],
            "range": ["#f7fbff", "#deebf7", "#c6dbef", "#9ecae1", "#6baed6", "#4292c6", "#2171b5", "#08519c", "#08306b"],
            "interpolate": "rgb"
          },
          "legend": null
        },
        "order": {"field": "d", "type": "quantitative"}
      }
    },
    {
      "width": 2325,
      "height": 117,
      "data": {"values": [{"lo": 0, "hi": 0.5746}]},
      "mark": {
        "type": "rect", "stroke": "black", "strokeWidth": 2,
        "fill": {
          "gradient": "linear", "x1": 0, "x2": 1, "y1": 0, "y2": 0,
          "stops": [
            {"offset": 0, "color": "#f7fbff"},
            {"offset": 0.125, "color": "#deebf7"},
            {"offset": 0.25, "color": "#c6dbef"},
            {"offset": 0.375, "color": "#9ecae1"},
            {"offset": 0.5, "color": "#6baed6"},
            {"offset": 0.625, "color": "#4292c6"},
            {"offset": 0.75, "color": "#2171b5"},
            {"offset": 0.875, "color": "#08519c"},
            {"offset": 1, "color": "#08306b"}
          ]
        }
      },
      "encoding": {
        "x": {
          "field": "lo", "type": "quantitative",
          "scale": {"domain": [0, 0.5746], "nice": false, "zero": false},
          "axis": {
            "values": [0.1, 0.2, 0.3, 0.4, 0.5], "format": ".1f",
            "grid": false, "domain": false,
            "ticks": true, "tickSize": 13, "tickWidth": 1.3, "tickColor": "black",
            "labelFontSize": 74, "labelPadding": 13,
            "title": "Abs. Spearman R: Dim. ~ Output Prob.", "titleFontSize": 110, "titlePadding": 15
          }
        },
        "x2": {"field": "hi"}
      }
    }
  ]
}
